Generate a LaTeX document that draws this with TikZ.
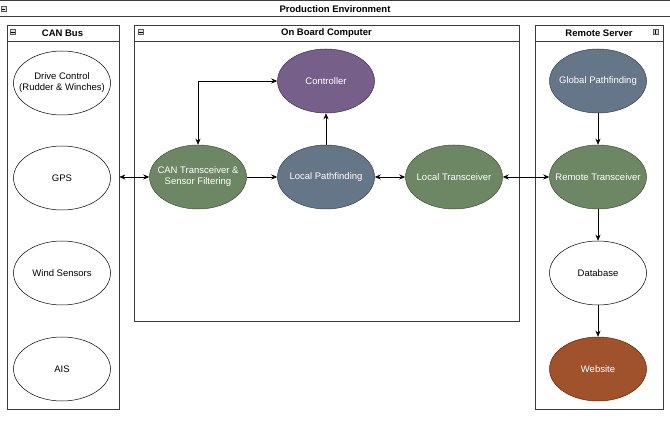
\documentclass[tikz,border=0pt]{standalone}
\usepackage{fontspec}
\setmainfont{Liberation Sans}
\usetikzlibrary{shapes.geometric,arrows.meta}
\definecolor{gborder}{HTML}{3A5431}
\definecolor{gfill}{HTML}{6D8764}
\definecolor{sfill}{HTML}{647687}
\definecolor{sborder}{HTML}{314354}
\definecolor{pfill}{HTML}{76608A}
\definecolor{pborder}{HTML}{432D57}
\definecolor{rfill}{HTML}{A0522D}
\definecolor{rborder}{HTML}{6D1F00}
\definecolor{frame}{HTML}{3C3C3C}
\tikzset{
  x=1pt, y=-1pt,
  every node/.style={font=\fontsize{9.5}{11}\selectfont},
  container/.style={draw=frame, line width=0.8pt, anchor=north west, inner sep=0pt},
  hdr/.style={font=\fontsize{9.5}{11}\selectfont\bfseries},
  oval/.style={ellipse, draw=black, line width=0.5pt, minimum width=97pt, minimum height=64pt, inner sep=0pt},
  txt/.style={label={[align=center, inner sep=0pt]center:#1}},
  wtxt/.style={label={[align=center, inner sep=0pt, text=white]center:#1}},
  green/.style={oval, fill=gfill, draw=gborder},
  slate/.style={oval, fill=sfill, draw=sborder},
  purple/.style={oval, fill=pfill, draw=pborder},
  rust/.style={oval, fill=rfill, draw=rborder},
  plain/.style={oval, fill=white},
  conn/.style={line width=0.6pt, draw=black, -{Stealth[length=6pt,width=5pt]}},
  dconn/.style={line width=0.6pt, draw=black, {Stealth[length=6pt,width=5pt]}-{Stealth[length=6pt,width=5pt]}},
  icon/.style={draw=gray!70!black, fill=gray!25, line width=0.4pt, minimum size=5pt, inner sep=0pt}
}
\begin{document}
\begin{tikzpicture}
\useasboundingbox (0,0) rectangle (670,422);
\fill[white] (0,0) rectangle (670,422);
% outer production environment
\draw[frame, line width=0.8pt] (-2,0.5) -- (672,0.5);
\draw[frame, line width=0.8pt] (-2,16.5) -- (672,16.5);
\node[hdr] (prodlbl) at (335,9) {Production Environment};
\node[icon] (prodicon) at (3.5,9) {};
\draw[line width=0.5pt] (1.8,9) -- (5.2,9);

% containers
\node[container, minimum width=112pt, minimum height=384pt] (canbus) at (6.5,25) {};
\draw[frame, line width=0.8pt] (6.5,41) -- (118.5,41);
\node[hdr] (canlbl) at (62.5,33) {CAN Bus};
\node[icon] (canicon) at (13,32) {};
\draw[line width=0.5pt] (11.3,32) -- (14.7,32);

\node[container, minimum width=385pt, minimum height=296pt] (obc) at (134,25) {};
\draw[frame, line width=0.8pt] (134,41) -- (519,41);
\node[hdr] (obclbl) at (326.5,33) {On Board Computer};
\node[icon] (obcicon) at (141,32) {};
\draw[line width=0.5pt] (139.3,32) -- (142.7,32);

\node[container, minimum width=128pt, minimum height=384pt] (rs) at (535,25) {};
\draw[frame, line width=0.8pt] (535,41) -- (663,41);
\node[hdr] (rslbl) at (599,33) {Remote Server};
\node[icon] (rsicon) at (655.5,32) {};
\draw[line width=0.5pt] (655.5,30.3) -- (655.5,33.7);

% CAN bus nodes
\node[plain, txt={Drive Control\\(Rudder \& Winches)}] (drive) at (62,83) {};
\node[plain, txt={GPS}] (gps) at (62,178) {};
\node[plain, txt={Wind Sensors}] (wind) at (62,273) {};
\node[plain, txt={AIS}] (ais) at (62,369) {};

% on board computer nodes
\node[purple, wtxt={Controller}] (ctrl) at (326,81) {};
\node[green, wtxt={CAN Transceiver \&\\Sensor Filtering}] (cant) at (198,177) {};
\node[slate, wtxt={Local Pathfinding}] (lpf) at (326,177) {};
\node[green, wtxt={Local Transceiver}] (lt) at (454,177) {};

% remote server nodes
\node[slate, wtxt={Global Pathfinding}] (gpf) at (598,81) {};
\node[green, wtxt={Remote Transceiver}] (rt) at (598,177) {};
\node[plain, txt={Database}] (db) at (598,273) {};
\node[rust, wtxt={Website}] (web) at (598,369) {};

% connectors
\draw[dconn] (canbus.east |- cant.west) -- (cant.west);
\draw[conn] (cant.east) -- (lpf.west);
\draw[dconn] (lpf.east) -- (lt.west);
\draw[dconn] (lt.east) -- (rt.west);
\draw[conn] (lpf.north) -- (ctrl.south);
\draw[dconn] (ctrl.west) -| (cant.north);
\draw[conn] (gpf.south) -- (rt.north);
\draw[conn] (rt.south) -- (db.north);
\draw[conn] (db.south) -- (web.north);
\end{tikzpicture}
\end{document}
